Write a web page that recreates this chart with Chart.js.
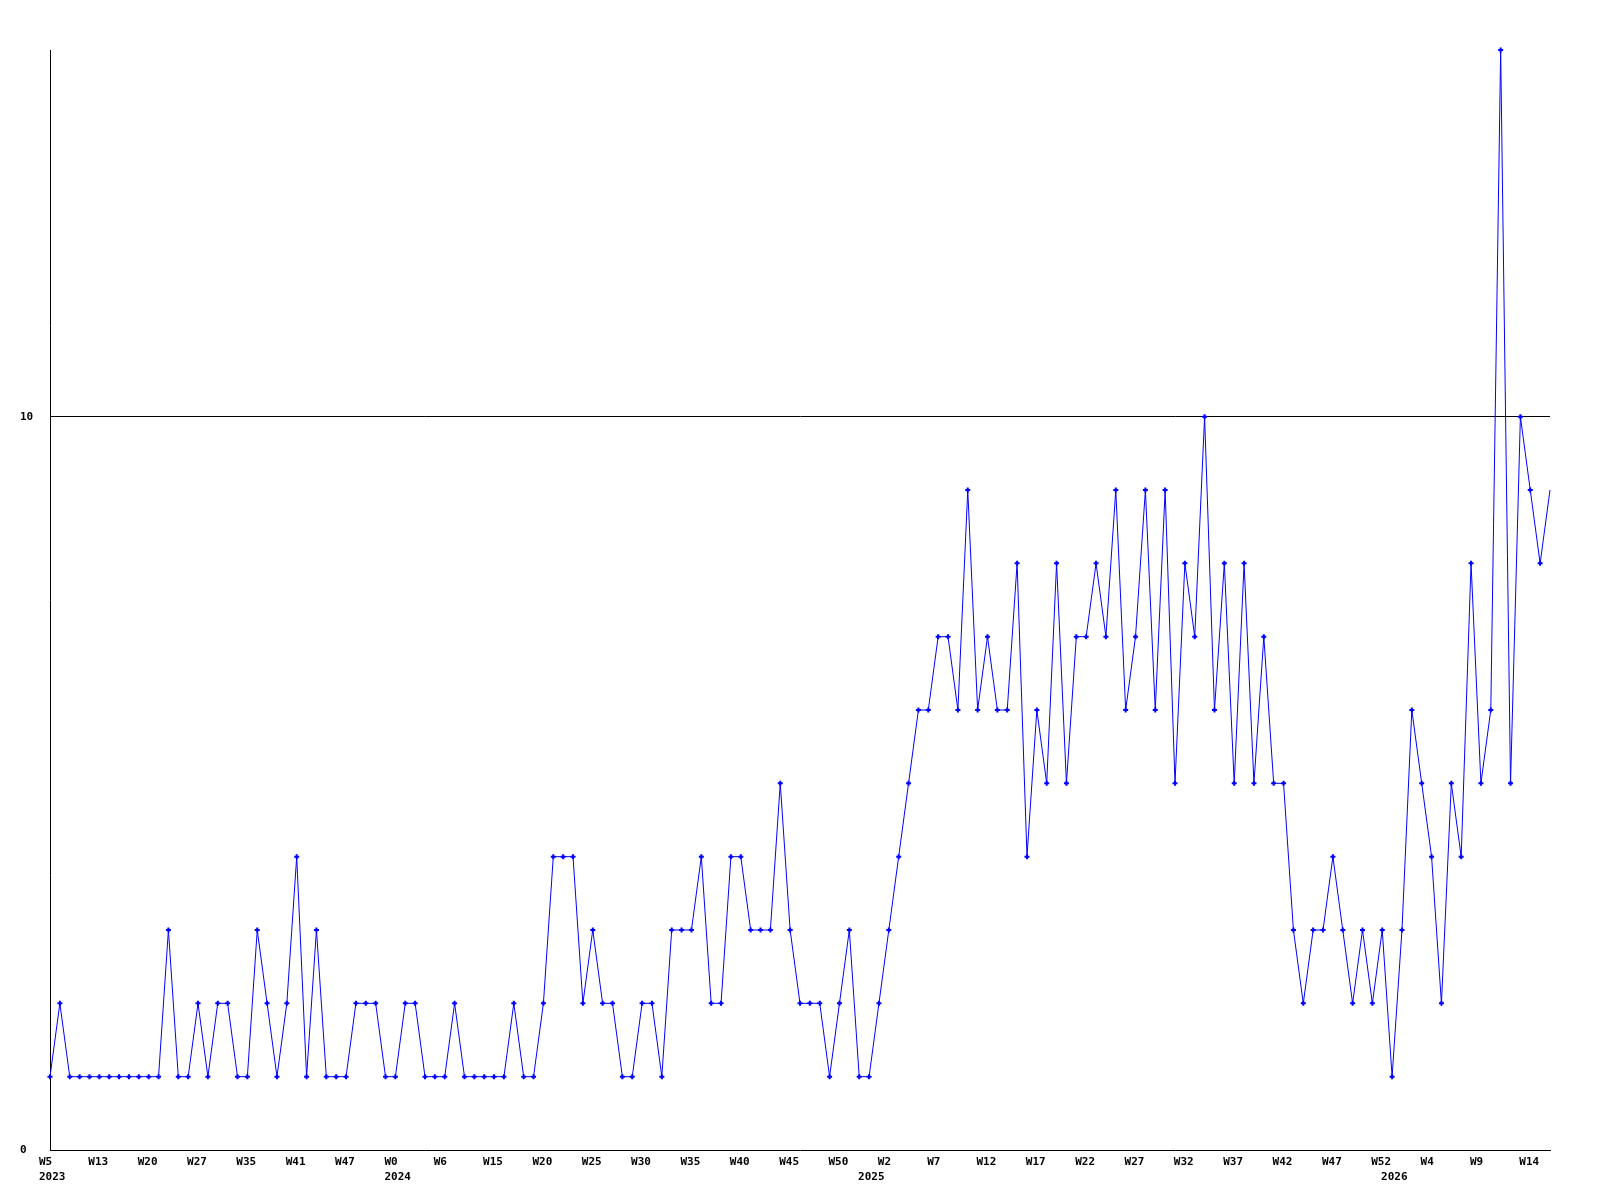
<!DOCTYPE html>
<html><head><meta charset="utf-8">
<script src="https://cdn.jsdelivr.net/npm/chart.js@4.4.0/dist/chart.umd.min.js"></script>
<style>html,body{margin:0;padding:0;background:#fff}#wrap{width:1600px;height:1200px}</style>
</head><body><div id="wrap"><canvas id="c" width="1600" height="1200"></canvas></div>
<script>
// weekly counts, one per week (153 weeks)
const values = [
  1,2,1,1,1,1,1,1,1,1,1,1,3,1,1,2,1,2,2,1,
  1,3,2,1,2,4,1,3,1,1,1,2,2,2,1,1,2,2,1,1,
  1,2,1,1,1,1,1,2,1,1,2,4,4,4,2,3,2,2,1,1,
  2,2,1,3,3,3,4,2,2,4,4,3,3,3,5,3,2,2,2,1,
  2,3,1,1,2,3,4,5,6,6,7,7,6,9,6,7,6,6,8,4,
  6,5,8,5,7,7,8,7,9,6,7,9,6,9,5,8,7,10,6,8,
  5,8,5,7,5,5,3,2,3,3,4,3,2,3,2,3,1,3,6,5,
  4,2,5,4,8,5,6,15,5,10,9,8,9
];
// tick labels shown every 5th week, starting at the first week
const weekTickLabels = ['W5','W13','W20','W27','W35','W41','W47','W0','W6','W15','W20','W25','W30','W35','W40','W45','W50','W2','W7','W12','W17','W22','W27','W32','W37','W42','W47','W52','W4','W9','W14'];
const weekTickEvery = 5;
// year labels and the week index where each year starts
const yearLabels = ['2023','2024','2025','2026'];
const yearStartIndex = [0,35,83,136];
const yTickValues = [0,10];
const yMax = 15;

const labelMap = {};
weekTickLabels.forEach((l,i)=>{ labelMap[i*weekTickEvery] = [l]; });
yearStartIndex.forEach((idx,i)=>{
  if (labelMap[idx]) labelMap[idx] = [labelMap[idx][0], yearLabels[i]];
  else labelMap[idx] = ['', yearLabels[i]];
});
const xTickValues = Object.keys(labelMap).map(Number).sort((a,b)=>a-b);

const FONT = {family:'"DejaVu Sans Mono", monospace', size:11, weight:'bold', lineHeight:1.32};
const last = values.length-1;

new Chart(document.getElementById('c'), {
  type:'line',
  data:{
    datasets:[{
      data: values.map((v,i)=>({x:i,y:v})),
      borderColor:'#0000ff',
      borderWidth:1,
      tension:0,
      pointStyle:'cross',
      pointRadius: ctx => ctx.dataIndex===last ? 0 : 2.5,
      pointBorderWidth:2,
      pointBorderColor:'#0000ff',
      pointBackgroundColor:'#0000ff',
      clip:false
    }]
  },
  options:{
    responsive:false,
    animation:false,
    devicePixelRatio:1,
    layout:{padding:{left:20,right:50,top:50,bottom:0}},
    plugins:{legend:{display:false},tooltip:{enabled:false}},
    scales:{
      x:{
        type:'linear',
        min:0, max:last,
        afterBuildTicks: s => { s.ticks = xTickValues.map(v=>({value:v})); },
        afterFit: s => { s.height = 50; },
        grid:{display:false, drawTicks:false},
        border:{display:true, color:'#000', width:1},
        ticks:{
          autoSkip:false, maxRotation:0, minRotation:0,
          align:'start', labelOffset:-11, padding:5,
          color:'#000', font:FONT,
          callback: v => labelMap[v] || ''
        }
      },
      y:{
        min:0, max:yMax,
        afterBuildTicks: s => { s.ticks = yTickValues.map(v=>({value:v})); },
        afterFit: s => { s.width = 30; },
        grid:{drawTicks:false, color: c => (c.tick && c.tick.value===10) ? '#000' : 'rgba(0,0,0,0)', lineWidth:1},
        border:{display:true, color:'#000', width:1},
        ticks:{crossAlign:'far', color:'#000', font:FONT, padding:0, callback: v => String(v)}
      }
    }
  }
});
</script></body></html>
